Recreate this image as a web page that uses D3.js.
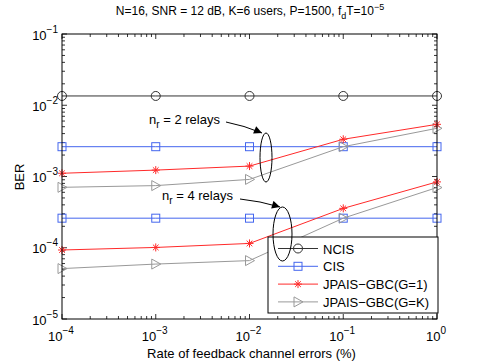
<!DOCTYPE html>
<html>
<head>
<meta charset="utf-8">
<script src="https://cdn.jsdelivr.net/npm/d3@7"></script>
<style>
  body { margin: 0; background: #fff; }
  svg { font-family: "Liberation Sans", Arial, sans-serif; }
</style>
</head>
<body>
<svg id="chart" width="482" height="363"></svg>
<script>
// data
const xErr = [1e-4, 1e-3, 1e-2, 1e-1, 1];
const ncis = [0.0135, 0.0135, 0.0135, 0.0135, 0.0135];
const cis2 = [2.62e-3, 2.62e-3, 2.62e-3, 2.62e-3, 2.62e-3];
const cis4 = [2.6e-4, 2.6e-4, 2.6e-4, 2.6e-4, 2.6e-4];
const gbc1R2 = [1.11e-3, 1.23e-3, 1.40e-3, 3.33e-3, 5.4e-3];
const gbcKR2 = [7.05e-4, 7.45e-4, 9.1e-4, 2.62e-3, 4.75e-3];
const gbc1R4 = [9.3e-5, 1.01e-4, 1.15e-4, 3.57e-4, 8.4e-4];
const gbcKR4 = [5.1e-5, 5.9e-5, 6.6e-5, 2.6e-4, 7.0e-4];
const xTickExp = [-4, -3, -2, -1, 0];
const yTickExp = [-5, -4, -3, -2, -1];
const legendNames = ["NCIS", "CIS", "JPAIS\u2212GBC(G=1)", "JPAIS\u2212GBC(G=K)"];

const colors = { ncis: "#333333", cis: "#4466ee", g1: "#ff2a2a", gk: "#999999" };
const fs = "13px", fsSup = "10px";

const svg = d3.select("#chart");
const m = { left: 62, top: 34, right: 45, bottom: 44 };
const W = 482 - m.left - m.right;
const H = 363 - m.top - m.bottom;

const x = d3.scaleLog().domain([1e-4, 1]).range([0, W]);
const y = d3.scaleLog().domain([1e-5, 1e-1]).range([H, 0]);

const g = svg.append("g").attr("transform", `translate(${m.left},${m.top})`);

// title
const title = svg.append("text")
  .attr("x", 250).attr("y", 15)
  .attr("text-anchor", "middle")
  .style("font-size", "12px");
title.append("tspan").text("N=16, SNR = 12 dB, K=6 users, P=1500, f");
title.append("tspan").attr("dy", 4).style("font-size", "9px").text("d");
title.append("tspan").attr("dy", -4).text("T=10");
title.append("tspan").attr("dy", -5).style("font-size", "9px").text("\u22125");

// minor/major ticks on all sides
function logTicks(lo, hi) {
  const out = [];
  for (let e = lo; e < hi; e++) {
    for (let k = 1; k <= 9; k++) out.push({ v: k * Math.pow(10, e), major: k === 1 });
  }
  out.push({ v: Math.pow(10, hi), major: true });
  return out;
}
const xt = logTicks(-4, 0);
const yt = logTicks(-5, -1);

const tickG = g.append("g").attr("stroke", "#000").attr("stroke-width", 0.8);
xt.forEach(t => {
  const len = t.major ? 5 : 3;
  const px = x(t.v);
  tickG.append("line").attr("x1", px).attr("x2", px).attr("y1", H).attr("y2", H - len);
  tickG.append("line").attr("x1", px).attr("x2", px).attr("y1", 0).attr("y2", len);
});
yt.forEach(t => {
  const len = t.major ? 5 : 3;
  const py = y(t.v);
  tickG.append("line").attr("x1", 0).attr("x2", len).attr("y1", py).attr("y2", py);
  tickG.append("line").attr("x1", W).attr("x2", W - len).attr("y1", py).attr("y2", py);
});

// tick labels
xTickExp.forEach(e => {
  const t = g.append("text")
    .attr("x", x(Math.pow(10, e)) - 1).attr("y", H + 22)
    .attr("text-anchor", "middle")
    .style("font-size", fs);
  t.append("tspan").text("10");
  t.append("tspan").attr("dy", -7).style("font-size", fsSup).text(e === 0 ? "0" : "\u2212" + (-e));
});
yTickExp.forEach(e => {
  const t = g.append("text")
    .attr("x", -4).attr("y", y(Math.pow(10, e)) + 5.5)
    .attr("text-anchor", "end")
    .style("font-size", fs);
  t.append("tspan").text("10");
  t.append("tspan").attr("dy", -7).style("font-size", fsSup).text("\u2212" + (-e));
});

// axis labels
svg.append("text")
  .attr("x", m.left + W / 2 + 2).attr("y", 358)
  .attr("text-anchor", "middle")
  .style("font-size", fs)
  .text("Rate of feedback channel errors (%)");
svg.append("text")
  .attr("transform", `translate(24,${177}) rotate(-90)`)
  .attr("text-anchor", "middle")
  .style("font-size", fs)
  .text("BER");

// series
const line = d3.line().x((d, i) => x(xErr[i])).y(d => y(d));

function marker(sel, type, color) {
  if (type === "circle") {
    sel.append("circle").attr("r", 4.5).attr("fill", "none").attr("stroke", color);
  } else if (type === "square") {
    sel.append("rect").attr("x", -4).attr("y", -4).attr("width", 8).attr("height", 8)
      .attr("fill", "none").attr("stroke", color);
  } else if (type === "star") {
    const r = 4;
    [0, 45, 90, 135].forEach(a => {
      const rad = a * Math.PI / 180;
      sel.append("line")
        .attr("x1", -r * Math.cos(rad)).attr("y1", -r * Math.sin(rad))
        .attr("x2", r * Math.cos(rad)).attr("y2", r * Math.sin(rad))
        .attr("stroke", color);
    });
  } else if (type === "tri") {
    sel.append("path").attr("d", "M-4,-5 L5,0 L-4,5 Z").attr("fill", "none").attr("stroke", color);
  }
}

const series = [
  { vals: ncis, color: colors.ncis, mk: "circle" },
  { vals: cis2, color: colors.cis, mk: "square" },
  { vals: cis4, color: colors.cis, mk: "square" },
  { vals: gbcKR2, color: colors.gk, mk: "tri" },
  { vals: gbcKR4, color: colors.gk, mk: "tri" },
  { vals: gbc1R2, color: colors.g1, mk: "star" },
  { vals: gbc1R4, color: colors.g1, mk: "star" }
];

series.forEach(s => {
  g.append("path").attr("d", line(s.vals))
    .attr("fill", "none").attr("stroke", s.color).attr("stroke-width", 1);
  s.vals.forEach((v, i) => {
    const mg = g.append("g").attr("transform", `translate(${x(xErr[i])},${y(v)})`);
    marker(mg, s.mk, s.color);
  });
});

// axes box
g.append("rect").attr("width", W).attr("height", H)
  .attr("fill", "none").attr("stroke", "#000").attr("stroke-width", 1);

// annotations
const defs = svg.append("defs");
defs.append("marker").attr("id", "arr").attr("viewBox", "0 0 10 10")
  .attr("refX", 10).attr("refY", 5).attr("markerWidth", 10).attr("markerHeight", 8)
  .attr("orient", "auto").attr("markerUnits", "userSpaceOnUse")
  .append("path").attr("d", "M0,0 L10,5 L0,10 Z").attr("fill", "#000");

function relayNote(tx, ty, n, ax1, ay1, ax2, ay2, cx, cy, rx, ry) {
  const t = svg.append("text").attr("x", tx).attr("y", ty).style("font-size", fs);
  t.append("tspan").text("n");
  t.append("tspan").attr("dy", 4).style("font-size", fsSup).text("r");
  t.append("tspan").attr("dy", -4).text(" = " + n + " relays");
  svg.append("path")
    .attr("d", `M${ax1},${ay1} Q${(ax1 + ax2) / 2},${(ay1 + ay2) / 2 - 2} ${ax2},${ay2}`)
    .attr("fill", "none").attr("stroke", "#000").attr("marker-end", "url(#arr)");
  svg.append("ellipse").attr("cx", cx).attr("cy", cy).attr("rx", rx).attr("ry", ry)
    .attr("fill", "none").attr("stroke", "#000");
}

// legend
const lg = svg.append("g").attr("transform", "translate(268,237)");
lg.append("rect").attr("width", 170).attr("height", 76)
  .attr("fill", "#fff").attr("stroke", "#000");
const lgSeries = [
  { color: colors.ncis, mk: "circle" },
  { color: colors.cis, mk: "square" },
  { color: colors.g1, mk: "star" },
  { color: colors.gk, mk: "tri" }
];
lgSeries.forEach((s, i) => {
  const yy = 11.5 + i * 17.8;
  lg.append("line").attr("x1", 10).attr("x2", 50).attr("y1", yy).attr("y2", yy)
    .attr("stroke", s.color);
  marker(lg.append("g").attr("transform", `translate(30,${yy})`), s.mk, s.color);
  lg.append("text").attr("x", 55).attr("y", yy + 5)
    .style("font-size", fs).text(legendNames[i]);
});

relayNote(149, 124, 2, 226, 122, 262, 133, 266, 157.5, 6, 24.5);
relayNote(162, 200, 4, 240, 199, 280, 207, 282.5, 234, 9.5, 27);
</script>
</body>
</html>
